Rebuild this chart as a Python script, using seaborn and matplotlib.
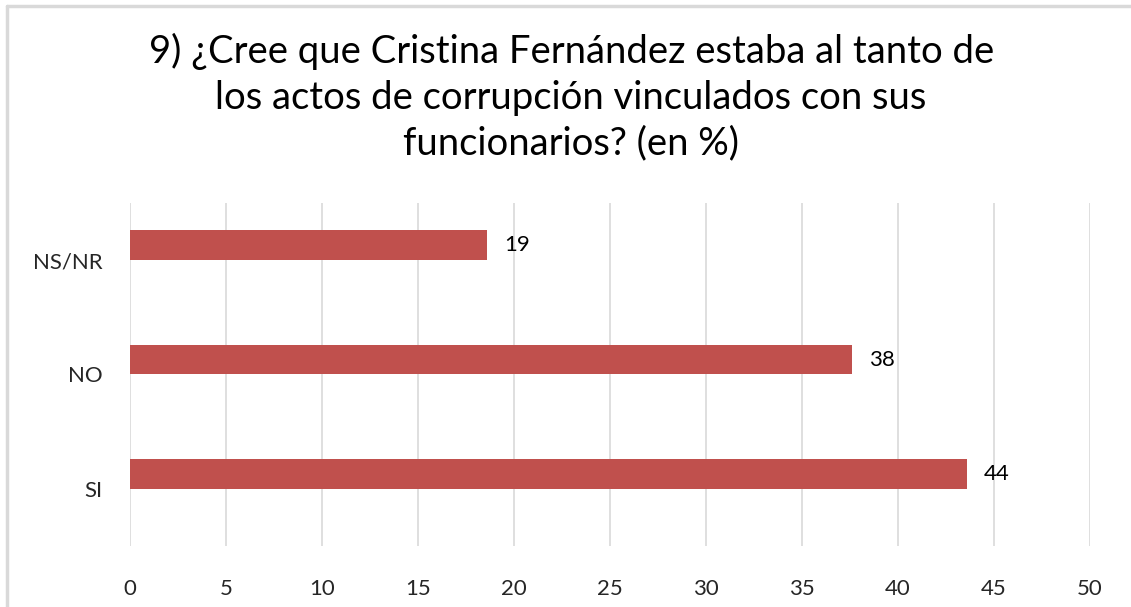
import matplotlib
matplotlib.use("Agg")
import numpy as np
import pandas as pd
import seaborn as sns
from matplotlib import pyplot as plt
from matplotlib.lines import Line2D

# data
categories = ["NS/NR", "NO", "SI"]
values = [18.6, 37.6, 43.6]
# the source chart had a second, empty series (it offsets the bars upward)
empty_values = [np.nan, np.nan, np.nan]
series = ["Serie 1", "Serie 2"]
x_ticks = [0, 5, 10, 15, 20, 25, 30, 35, 40, 45, 50]
title = ("9) ¿Cree que Cristina Fernández estaba al tanto de\n"
         "los actos de corrupción vinculados con sus\n"
         "funcionarios? (en %)")

BAR_COLOR = "#c0504d"
GRID_COLOR = "#d9d9d9"

sns.set_theme(style="white")
plt.rcParams["font.family"] = ["Lato", "DejaVu Sans"]

df = pd.DataFrame({
    "cat": categories * 2,
    "serie": [series[0]] * 3 + [series[1]] * 3,
    "val": values + empty_values,
})

fig = plt.figure(figsize=(11.31, 6.07), dpi=100)
ax = fig.add_axes([0.1149, 0.1005, 0.8489, 0.5651])

sns.barplot(df, x="val", y="cat", hue="serie", order=categories, hue_order=series,
            palette=[BAR_COLOR, BAR_COLOR], width=0.52, saturation=1,
            linewidth=0, legend=False, ax=ax)

ax.set_xlim(0, 50)
ax.set_xticks(x_ticks)
ax.set_xticklabels([str(t) for t in x_ticks], fontsize=16)
ax.tick_params(axis="y", labelsize=16, length=0, pad=20)
ax.tick_params(axis="x", length=0, pad=24)
ax.set_xlabel("")
ax.set_ylabel("")
for s in ax.spines.values():
    s.set_visible(False)
ax.grid(axis="x", color=GRID_COLOR, linewidth=1.2)
ax.set_axisbelow(True)

ax.bar_label(ax.containers[0], fmt="%.0f", padding=12, fontsize=16, color="black")

fig.text(0.505, 0.840, title, ha="center", va="center", fontsize=27.5,
         linespacing=1.32, color="black")

# chart frame (top and left edges only visible)
fig.add_artist(Line2D([0.0062, 1.0], [0.9901, 0.9901], transform=fig.transFigure,
                      color=GRID_COLOR, linewidth=2.5))
fig.add_artist(Line2D([0.0062, 0.0062], [0.0, 0.9901], transform=fig.transFigure,
                      color=GRID_COLOR, linewidth=2.5))

fig.savefig("out.png", dpi=100)
